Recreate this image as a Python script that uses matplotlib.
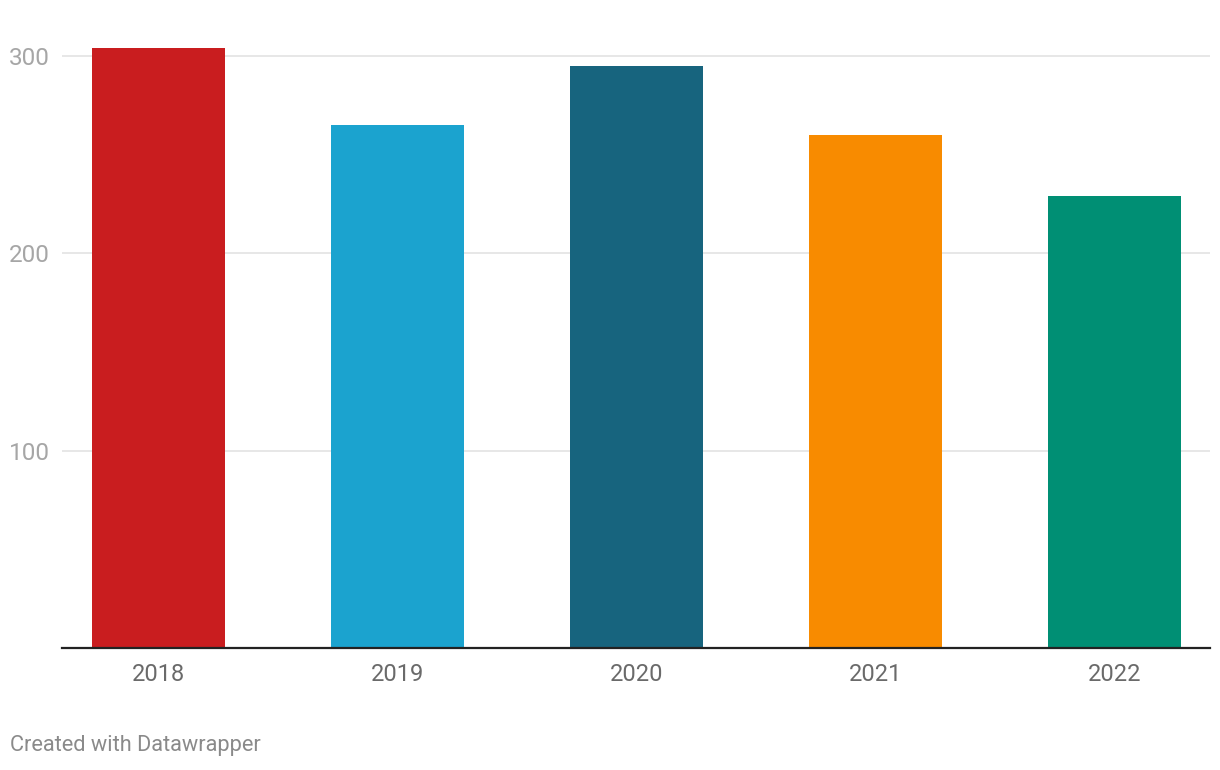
import matplotlib.pyplot as plt

plt.rcParams["font.family"] = ["Roboto", "DejaVu Sans"]

years = ["2018", "2019", "2020", "2021", "2022"]
values = [304, 265, 295, 260, 229]
colors = ["#c91d1f", "#1ba3cf", "#17647e", "#f88b00", "#008f74"]
y_ticks = [100, 200, 300]

fig = plt.figure(figsize=(12.2, 7.7), dpi=100)
ax = fig.add_axes([62 / 1220, 122 / 770, 1148 / 1220, 612 / 770])

x = list(range(len(years)))
ax.bar(x, values, width=0.56, color=colors, zorder=2)

ax.set_xlim(-0.404, 4.40)
ax.set_ylim(0, 310)

ax.set_yticks(y_ticks)
ax.set_yticklabels([str(t) for t in y_ticks])
ax.set_xticks(x)
ax.set_xticklabels(years)

ax.grid(axis="y", color="#e3e3e3", linewidth=1.2, zorder=0)
ax.set_axisbelow(True)

for s in ["top", "right", "left"]:
    ax.spines[s].set_visible(False)
ax.spines["bottom"].set_color("#222222")
ax.spines["bottom"].set_linewidth(1.6)

ax.tick_params(axis="y", length=0, pad=9, labelsize=17.5, labelcolor="#a6a6a6")
ax.tick_params(axis="x", length=0, pad=11, labelsize=17, labelcolor="#6a6a6a")

fig.text(10 / 1220, 1 - 746 / 770, "Created with Datawrapper", fontsize=15.7,
         color="#8a8a8a", va="center", ha="left")

fig.savefig("out.png", dpi=100)
